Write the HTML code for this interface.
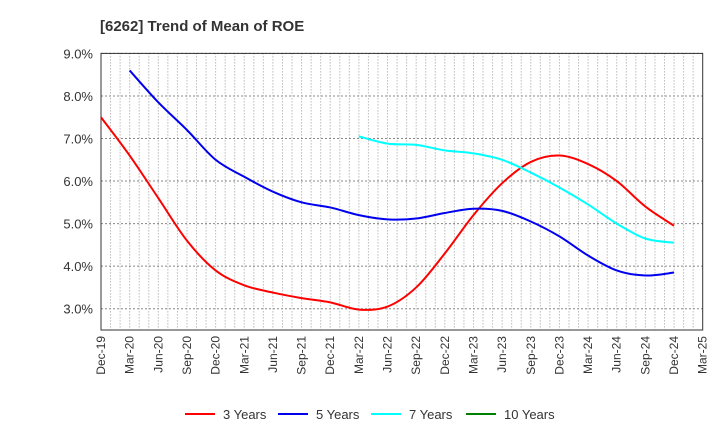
<!DOCTYPE html>
<html><head><meta charset="utf-8"><style>
body{margin:0;background:#fff;font-family:"Liberation Sans",Arial,sans-serif}
svg text{font-family:"Liberation Sans",Arial,sans-serif;fill:#333}
</style></head><body>
<svg id="c" width="720" height="440" xmlns="http://www.w3.org/2000/svg">
<text x="100" y="31" font-size="15" font-weight="bold">[6262]  Trend of Mean of ROE</text>
<g id="grid"></g><g id="axes"></g><g id="series"></g><g id="legend"></g>
</svg>
<script>
const categories=["Dec-19","Mar-20","Jun-20","Sep-20","Dec-20","Mar-21","Jun-21","Sep-21","Dec-21","Mar-22","Jun-22","Sep-22","Dec-22","Mar-23","Jun-23","Sep-23","Dec-23","Mar-24","Jun-24","Sep-24","Dec-24","Mar-25"];
const yTicks=[3,4,5,6,7,8,9];
const s3=[7.5,6.6,5.6,4.6,3.9,3.55,3.38,3.25,3.15,2.98,3.05,3.5,4.3,5.2,5.95,6.45,6.6,6.4,6.0,5.4,4.95];
const s5=[null,8.6,7.85,7.2,6.5,6.1,5.75,5.5,5.38,5.2,5.1,5.12,5.25,5.35,5.3,5.05,4.7,4.25,3.9,3.78,3.85];
const s7=[null,null,null,null,null,null,null,null,null,7.05,6.88,6.85,6.72,6.65,6.5,6.2,5.85,5.45,5.0,4.65,4.55];
const s10=[];
const L=101,R=702.7,T=53.4,B=330,yMin=2.5,yMax=9.0;
const NS="http://www.w3.org/2000/svg";
const X=i=>L+(R-L)*i/(categories.length-1);
const Y=v=>B-(B-T)*(v-yMin)/(yMax-yMin);
function mk(t,a,p){const e=document.createElementNS(NS,t);for(const k in a)e.setAttribute(k,a[k]);p.appendChild(e);return e;}
const g=document.getElementById('grid'),ax=document.getElementById('axes'),se=document.getElementById('series'),lg=document.getElementById('legend');
for(let m=1;m<(categories.length-1)*3;m++){const x=L+(R-L)*m/((categories.length-1)*3);
const l=mk('line',{x1:x,x2:x,y1:T,y2:B,stroke:'#999','stroke-dasharray':'1,2','stroke-width':1},g);

}
yTicks.forEach(v=>{const y=Y(v);
const l=mk('line',{x1:L,x2:R,y1:y,y2:y,stroke:'#888','stroke-dasharray':'2,2','stroke-width':1},g);


const t=mk('text',{x:L-8,y:y+5,'font-size':13,'text-anchor':'end'},ax);t.textContent=v.toFixed(1)+'%';

});
const fr=mk('rect',{x:L,y:T,width:R-L,height:B-T,fill:'none',stroke:'#333','stroke-width':1},ax);


categories.forEach((c,i)=>{const x=X(i)+4;
const t=mk('text',{x:x,y:B+6,'font-size':12,'text-anchor':'end',transform:`rotate(-90 ${x} ${B+6})`},ax);t.textContent=c;

});
function path(arr){const p=[];arr.forEach((v,i)=>{if(v!=null)p.push([X(i),Y(v)]);});if(!p.length)return '';
let d=`M${p[0][0]},${p[0][1]}`;for(let i=0;i<p.length-1;i++){const p0=p[i-1]||p[i],p1=p[i],p2=p[i+1],p3=p[i+2]||p2;
d+=`C${p1[0]+(p2[0]-p0[0])/6},${p1[1]+(p2[1]-p0[1])/6} ${p2[0]-(p3[0]-p1[0])/6},${p2[1]-(p3[1]-p1[1])/6} ${p2[0]},${p2[1]}`;}return d;}
const series=[[s3,'#ff0000','3 Years','series-3-years'],[s5,'#0000ee','5 Years','series-5-years'],[s7,'#00ffff','7 Years','series-7-years'],[s10,'#008000','10 Years','series-10-years']];
const lx=[185,278,371,466];
series.forEach((s,k)=>{const d=path(s[0]);if(d){const p=mk('path',{d:d,fill:'none',stroke:s[1],'stroke-width':2},se);

}
const l=mk('line',{x1:lx[k],x2:lx[k]+30,y1:414,y2:414,stroke:s[1],'stroke-width':2},lg);


const t=mk('text',{x:lx[k]+38,y:419,'font-size':13},lg);t.textContent=s[2];

});
</script>
</body></html>
